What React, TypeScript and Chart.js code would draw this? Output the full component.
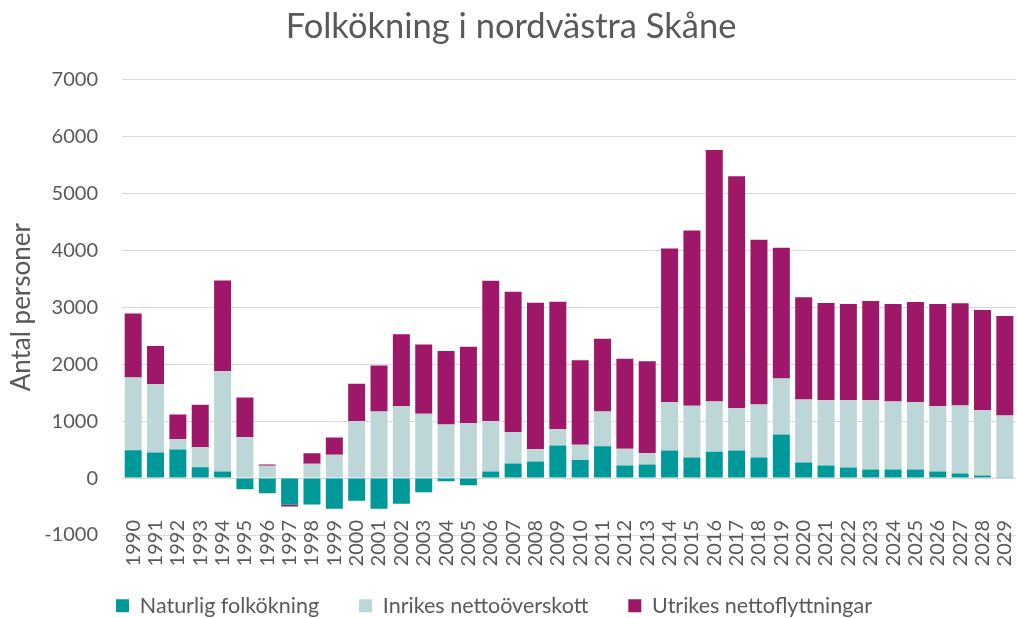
import React, { useEffect, useRef } from "react";
import { Chart, registerables } from "chart.js";

Chart.register(...registerables);

const years = [
  "1990","1991","1992","1993","1994","1995","1996","1997","1998","1999",
  "2000","2001","2002","2003","2004","2005","2006","2007","2008","2009",
  "2010","2011","2012","2013","2014","2015","2016","2017","2018","2019",
  "2020","2021","2022","2023","2024","2025","2026","2027","2028","2029",
];

const naturligFolkokning = [
  490, 450, 500, 190, 115, -195, -265, -470, -465, -540,
  -400, -540, -450, -250, -55, -125, 115, 255, 290, 570,
  315, 560, 220, 240, 485, 360, 460, 485, 360, 765,
  275, 220, 185, 150, 150, 150, 115, 80, 45, 5,
];

const inrikesNettooverskott = [
  1275, 1200, 180, 350, 1765, 720, 215, 0, 250, 410,
  1000, 1170, 1260, 1130, 940, 965, 885, 550, 220, 285,
  270, 610, 295, 200, 850, 910, 885, 745, 930, 985,
  1105, 1145, 1180, 1215, 1195, 1180, 1145, 1195, 1145, 1095,
];

const utrikesNettoflyttningar = [
  1125, 670, 435, 745, 1590, 695, 25, -30, 185, 300,
  655, 805, 1265, 1215, 1290, 1340, 2465, 2465, 2570, 2240,
  1485, 1275, 1580, 1610, 2695, 3075, 4415, 4070, 2895, 2295,
  1795, 1710, 1690, 1745, 1710, 1760, 1795, 1795, 1760, 1745,
];

const yTicks = [-1000, 0, 1000, 2000, 3000, 4000, 5000, 6000, 7000];

const FONT = "Lato";
const TEXT = "#595959";

const legendShift = {
  id: "legendShift",
  afterLayout(chart: any) {
    const lg = chart.legend;
    if (lg) {
      lg.left -= 17;
      lg.right -= 17;
    }
  },
};

export default function App() {
  const ref = useRef<HTMLCanvasElement | null>(null);

  useEffect(() => {
    if (!ref.current) return;
    const chart = new Chart(ref.current, {
      type: "bar",
      plugins: [legendShift],
      data: {
        labels: years,
        datasets: [
          { label: "Naturlig folkökning", data: naturligFolkokning, backgroundColor: "#009999" },
          { label: "Inrikes nettoöverskott", data: inrikesNettooverskott, backgroundColor: "#BDD7D8" },
          { label: "Utrikes nettoflyttningar", data: utrikesNettoflyttningar, backgroundColor: "#9E1768" },
        ],
      },
      options: {
        animation: false,
        responsive: false,
        maintainAspectRatio: false,
        datasets: {
          bar: { barPercentage: 0.76, categoryPercentage: 1 },
        },
        layout: { padding: { left: 6, right: 1, top: 0, bottom: 0 } },
        plugins: {
          title: {
            display: true,
            text: "Folkökning i nordvästra Skåne",
            color: TEXT,
            font: { family: FONT, size: 34.5, weight: "normal" },
            padding: { top: 6, bottom: 32 },
          },
          legend: {
            position: "bottom",
            maxHeight: 63,
            labels: {
              color: TEXT,
              font: { family: FONT, size: 21.5 },
              boxWidth: 13,
              boxHeight: 13,
              padding: 40,
            },
          },
          tooltip: { enabled: false },
        },
        scales: {
          x: {
            stacked: true,
            grid: { display: false, drawTicks: false },
            border: { display: false },
            ticks: {
              color: TEXT,
              font: { family: FONT, size: 20 },
              minRotation: 90,
              maxRotation: 90,
              autoSkip: false,
              padding: -15,
            },
            afterFit: (scale: any) => {
              scale.height = 20;
              scale._computeLabelArea = () => undefined;
            },
          },
          y: {
            stacked: true,
            min: -1000,
            max: 7000,
            afterBuildTicks: (axis: any) => {
              axis.ticks = yTicks.map((v) => ({ value: v }));
            },
            afterFit: (scale: any) => {
              scale.width = 116;
            },
            grid: { color: "#D9D9D9", lineWidth: 1, drawTicks: false },
            border: { display: false },
            ticks: {
              color: TEXT,
              font: { family: FONT, size: 20 },
              padding: 24,
              callback: (v: any) => String(v),
            },
            title: {
              display: true,
              text: "Antal personer",
              color: TEXT,
              font: { family: FONT, size: 26 },
              padding: { top: 0, bottom: 9 },
            },
          },
        },
      },
    });
    return () => chart.destroy();
  }, []);

  return (
    <div style={{ position: "fixed", left: 0, top: 0, width: 1017, height: 618, background: "#fff" }}>
      <canvas ref={ref} width={1017} height={618} style={{ width: 1017, height: 618 }} />
    </div>
  );
}
